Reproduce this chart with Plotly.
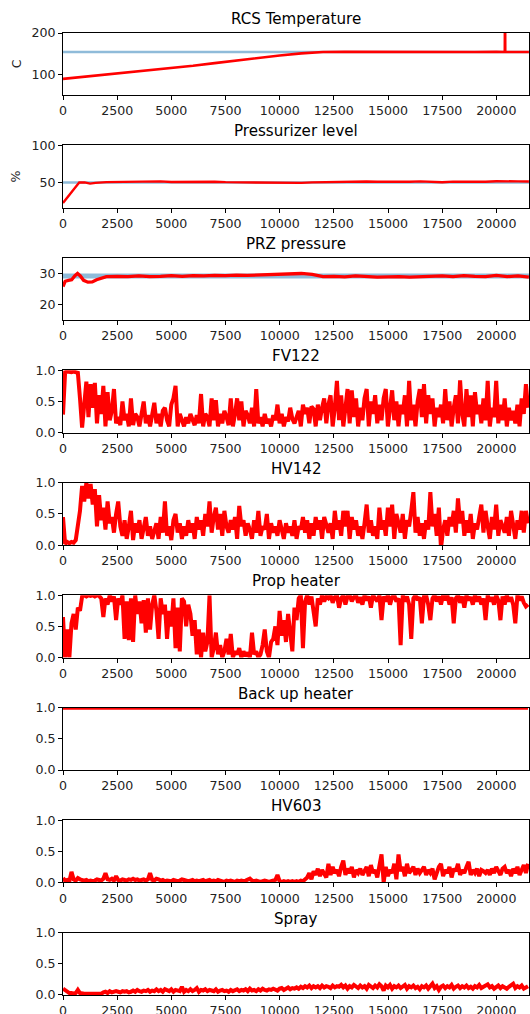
import plotly.graph_objects as go

# ---------------- data ----------------
titles = ["RCS Temperature", "Pressurizer level", "PRZ pressure", "FV122", "HV142",
          "Prop heater", "Back up heater", "HV603", "Spray"]
ylabels = ["C", "%", "", "", "", "", "", "", ""]

x_tickvals = [0, 2500, 5000, 7500, 10000, 12500, 15000, 17500, 20000]
x_ticktext = ["0", "2500", "5000", "7500", "10000", "12500", "15000", "17500", "20000"]
x_max = 21520

y_ranges = [[50, 200], [16, 100], [15, 35]] + [[0, 1]] * 6
y_tickvals = [[100, 200], [50, 100], [20, 30]] + [[0, 0.5, 1.0]] * 6
y_ticktext = [["100", "200"], ["50", "100"], ["20", "30"]] + [["0.0", "0.5", "1.0"]] * 6

# RCS temperature
temp_t = [0, 1000, 2000, 3000, 4000, 5000, 6000, 7000, 8000, 9000, 10000, 11000, 12000,
          13000, 14000, 15000, 16000, 17000, 18000, 19000, 20000,
          20390, 20400, 20410, 21000, 21500]
temp_v = [89.5, 94.5, 99.5, 104.5, 109.5, 114.5, 121, 127.5, 134, 140, 146, 151, 154.3,
          154.5, 154.2, 154.4, 154.3, 154.1, 154.4, 154.3, 154.5,
          154.2, 300, 154.4, 154.3, 154.4]
temp_sp_t = [0, 21520]
temp_sp_v = [154.4, 154.4]

# Pressurizer level
level_t = [0, 250, 500, 750, 1000, 1250, 1500, 2000, 2500, 3000, 3500, 4000, 4500, 5000,
           5500, 6000, 6500, 7000, 7500, 8000, 8500, 9000, 9500, 10000, 10500, 11000,
           11500, 12000, 12500, 13000, 13500, 14000, 14500, 15000, 15500, 16000, 16500,
           17000, 17500, 18000, 18500, 19000, 19500, 20000, 20500, 21000, 21500]
level_v = [22.5, 31, 41, 50, 50.2, 48.5, 49.5, 50.5, 50.8, 50.4, 51, 51.2, 51.6, 50.8,
           51, 51.2, 50.8, 51, 50.5, 50.3, 50, 50.5, 50.1, 49.8, 50, 49.5,
           50.2, 50.6, 51, 51.5, 51, 51.3, 51, 50.8, 51.3, 51, 51.6,
           51.2, 50.4, 51.2, 51, 51.6, 51, 51.8, 51.2, 51.5, 51.3]
level_sp_t = [0, 21520]
level_sp_v = [50, 50]

# PRZ pressure
press_t = [0, 100, 250, 400, 550, 670, 800, 950, 1150, 1350, 1550, 1800,
           2000, 2500, 3000, 3500, 4000, 4500, 5000, 5500, 6000, 6500, 7000, 7500,
           8000, 8500, 9000, 9500, 10000, 10500, 11000, 11500, 11800,
           12000, 12500, 13000, 13500, 14000, 14500, 15000, 15500, 16000, 16500,
           17000, 17500, 18000, 18500, 19000, 19500, 20000, 20500, 21000, 21500]
press_v = [25.8, 27.5, 27.8, 28.0, 29.3, 30.0, 29.2, 27.8, 27.2, 27.3, 28.0, 28.7,
           29.0, 29.1, 29.0, 29.2, 29.0, 29.1, 29.3, 29.1, 29.3, 29.2, 29.4, 29.3,
           29.5, 29.4, 29.5, 29.6, 29.7, 29.8, 30.0, 29.7, 29.2,
           29.0, 29.1, 28.9, 29.2, 29.0, 28.8, 28.9, 29.0, 28.8, 29.0,
           29.1, 29.2, 29.0, 29.3, 29.1, 29.0, 29.4, 29.0, 29.2, 28.8]
press_band_t = [0, 21520]
press_band_lo = [28.4, 28.4]
press_band_hi = [30.0, 30.0]

# valve / heater signals, one sample every 98 s
sample_dt = 98

fv122 = [
    0.29, 0.97, 0.98, 0.97, 0.97, 0.98, 0.97, 0.96, 0.55, 0.08,
    0.45, 0.82, 0.25, 0.78, 0.40, 0.80, 0.15, 0.60, 0.30, 0.75,
    0.10, 0.65, 0.20, 0.35, 0.70, 0.15, 0.25, 0.12, 0.50, 0.20,
    0.30, 0.10, 0.55, 0.12, 0.30, 0.25, 0.10, 0.30, 0.50, 0.15,
    0.28, 0.10, 0.30, 0.48, 0.15, 0.30, 0.10, 0.35, 0.40, 0.20,
    0.10, 0.45, 0.55, 0.75, 0.10, 0.30, 0.20, 0.10, 0.25, 0.15,
    0.30, 0.20, 0.12, 0.28, 0.15, 0.62, 0.10, 0.30, 0.25, 0.10,
    0.55, 0.20, 0.52, 0.10, 0.30, 0.15, 0.35, 0.25, 0.12, 0.55,
    0.10, 0.30, 0.55, 0.20, 0.50, 0.10, 0.35, 0.28, 0.15, 0.40,
    0.10, 0.70, 0.15, 0.25, 0.10, 0.30, 0.15, 0.22, 0.10, 0.28,
    0.20, 0.45, 0.15, 0.30, 0.10, 0.25, 0.18, 0.40, 0.22, 0.15,
    0.25, 0.35, 0.10, 0.45, 0.30, 0.40, 0.15, 0.42, 0.38, 0.10,
    0.45, 0.20, 0.40, 0.55, 0.15, 0.45, 0.60, 0.10, 0.40, 0.83,
    0.20, 0.60, 0.10, 0.45, 0.70, 0.15, 0.68, 0.25, 0.55, 0.10,
    0.40, 0.20, 0.55, 0.70, 0.10, 0.50, 0.30, 0.60, 0.15, 0.45,
    0.20, 0.55, 0.70, 0.10, 0.40, 0.68, 0.20, 0.50, 0.10, 0.45,
    0.30, 0.60, 0.10, 0.83, 0.20, 0.45, 0.10, 0.50, 0.70, 0.25,
    0.78, 0.15, 0.60, 0.30, 0.55, 0.10, 0.40, 0.25, 0.45, 0.15,
    0.70, 0.20, 0.50, 0.10, 0.40, 0.60, 0.15, 0.84, 0.30, 0.10,
    0.70, 0.25, 0.60, 0.10, 0.65, 0.30, 0.45, 0.15, 0.55, 0.20,
    0.83, 0.10, 0.40, 0.25, 0.83, 0.15, 0.45, 0.20, 0.55, 0.10,
    0.40, 0.20, 0.35, 0.15, 0.45, 0.10, 0.55, 0.30, 0.78, 0.40,
]

hv142 = [
    0.45, 0.02, 0.05, 0.03, 0.05, 0.04, 0.08, 0.30, 0.55, 0.95,
    0.70, 1.00, 0.75, 0.98, 0.65, 0.90, 0.30, 0.80, 0.40, 0.60,
    0.25, 0.70, 0.35, 0.45, 0.20, 0.50, 0.70, 0.30, 0.15, 0.40,
    0.10, 0.30, 0.55, 0.08, 0.35, 0.20, 0.40, 0.10, 0.30, 0.45,
    0.15, 0.30, 0.10, 0.25, 0.35, 0.10, 0.45, 0.20, 0.70, 0.15,
    0.30, 0.08, 0.40, 0.50, 0.20, 0.35, 0.10, 0.30, 0.15, 0.40,
    0.20, 0.35, 0.10, 0.45, 0.25, 0.40, 0.15, 0.50, 0.30, 0.70,
    0.20, 0.45, 0.60, 0.25, 0.50, 0.15, 0.55, 0.30, 0.20, 0.40,
    0.25, 0.45, 0.10, 0.63, 0.30, 0.40, 0.15, 0.35, 0.25, 0.10,
    0.40, 0.20, 0.55, 0.15, 0.30, 0.25, 0.50, 0.10, 0.35, 0.20,
    0.30, 0.15, 0.40, 0.25, 0.10, 0.35, 0.20, 0.30, 0.15, 0.40,
    0.10, 0.30, 0.25, 0.45, 0.20, 0.40, 0.10, 0.35, 0.15, 0.45,
    0.25, 0.40, 0.10, 0.45, 0.30, 0.20, 0.35, 0.10, 0.55, 0.25,
    0.40, 0.15, 0.55, 0.30, 0.55, 0.10, 0.45, 0.25, 0.40, 0.15,
    0.30, 0.10, 0.35, 0.65, 0.20, 0.40, 0.15, 0.30, 0.10, 0.60,
    0.25, 0.40, 0.15, 0.60, 0.30, 0.65, 0.10, 0.50, 0.35, 0.20,
    0.50, 0.10, 0.40, 0.30, 0.55, 0.85, 0.20, 0.45, 0.15, 0.35,
    0.10, 0.40, 0.25, 0.85, 0.30, 0.50, 0.15, 0.60, -0.05, 0.25,
    0.40, 0.15, 0.45, 0.30, 0.55, 0.20, 0.75, 0.35, 0.55, 0.15,
    0.40, 0.20, 0.50, 0.10, 0.35, 0.25, 0.45, 0.65, 0.20, 0.55,
    0.30, 0.10, 0.45, 0.25, 0.65, 0.15, 0.40, 0.30, 0.20, 0.45,
    0.15, 0.55, 0.30, 0.10, 0.40, 0.25, 0.55, 0.20, 0.55, 0.35,
]

prop_heater = [
    0.65, 0.00, 0.45, 0.00, 0.55, 0.70, 0.45, 0.80, 0.75, 0.98,
    1.00, 0.98, 1.00, 0.99, 1.00, 0.98, 1.00, 0.99, 0.95, 0.65,
    0.95, 0.85, 1.00, 0.90, 0.98, 0.60, 0.95, 0.85, 1.00, 0.30,
    0.90, 0.28, 0.95, 0.25, 1.00, 0.70, 0.90, 0.55, 0.92, 0.40,
    0.95, 0.45, 0.85, 1.00, 0.75, 0.30, 0.95, 0.70, 0.85, 0.30,
    0.75, 0.50, 0.95, 0.15, 0.80, 0.10, 0.95, 0.90, 0.50, 0.85,
    0.70, 0.35, 0.60, 0.05, 0.45, 0.00, 0.40, 0.10, 0.25, 1.00,
    0.00, 0.15, 0.40, 0.05, 0.20, 0.00, 0.10, 0.30, 0.05, 0.38,
    0.00, 0.10, 0.05, 0.15, 0.00, 0.10, 0.02, 0.08, 0.00, 0.40,
    0.05, 0.10, 0.00, 0.05, 0.20, 0.45, 0.10, 0.00, 0.25, 0.30,
    0.50, 0.20, 0.75, 0.35, 0.60, 0.25, 0.70, 0.40, 0.10, 0.80,
    0.60, 0.95, 1.00, 0.15, 0.90, 1.00, 0.85, 0.98, 0.70, 0.50,
    0.95, 0.85, 1.00, 0.90, 0.98, 0.95, 1.00, 0.88, 0.97, 1.00,
    0.80, 0.95, 1.00, 0.85, 0.98, 1.00, 0.90, 0.97, 1.00, 0.88,
    0.97, 0.85, 1.00, 0.92, 0.98, 0.80, 1.00, 0.95, 0.90, 1.00,
    0.60, 0.98, 0.90, 1.00, 0.85, 0.97, 1.00, 0.90, 0.95, 0.20,
    1.00, 0.90, 0.98, 0.85, 0.30, 0.95, 1.00, 0.92, 0.97, 0.55,
    0.98, 1.00, 0.85, 0.60, 0.95, 1.00, 0.90, 0.98, 0.85, 1.00,
    0.92, 1.00, 0.85, 0.97, 0.55, 0.95, 1.00, 0.88, 0.98, 0.80,
    1.00, 0.92, 0.97, 0.85, 1.00, 0.90, 0.98, 0.85, 0.95, 0.60,
    1.00, 0.90, 0.97, 0.85, 1.00, 0.92, 0.60, 0.98, 0.85, 1.00,
    0.90, 0.97, 0.85, 0.55, 1.00, 0.92, 0.98, 0.88, 0.82, 0.85,
]

backup_heater = [1.0] * 220

hv603 = [
    0.07, 0.03, 0.04, 0.02, 0.17, 0.05, 0.03, 0.07, 0.05, 0.04,
    0.03, 0.04, 0.02, 0.03, 0.02, 0.03, 0.05, 0.04, 0.03, 0.06,
    0.15, 0.05, 0.04, 0.06, 0.03, 0.10, 0.04, 0.03, 0.05, 0.04,
    0.03, 0.05, 0.04, 0.06, 0.04, 0.05, 0.03, 0.04, 0.05, 0.03,
    0.05, 0.15, 0.04, 0.03, 0.06, 0.05, 0.03, 0.04, 0.02, 0.03,
    0.03, 0.02, 0.04, 0.03, 0.02, 0.03, 0.05, 0.04, 0.03, 0.02,
    0.03, 0.04, 0.02, 0.03, 0.02, 0.03, 0.04, 0.02, 0.03, 0.04,
    0.02, 0.03, 0.02, 0.04, 0.03, 0.02, 0.01, 0.03, 0.02, 0.03,
    0.02, 0.01, 0.03, 0.02, 0.03, 0.02, 0.03, 0.05, 0.06, 0.03,
    0.02, 0.03, 0.02, 0.01, 0.02, 0.03, 0.02, 0.01, 0.02, 0.03,
    0.04, 0.12, 0.02, 0.01, 0.02, 0.01, 0.02, 0.01, 0.02, 0.01,
    0.02, 0.01, 0.03, 0.02, 0.05, 0.08, 0.15, 0.05, 0.18, 0.12,
    0.22, 0.10, 0.20, 0.15, 0.08, 0.30, 0.12, 0.25, 0.15, 0.20,
    0.10, 0.25, 0.35, 0.12, 0.22, 0.15, 0.25, 0.08, 0.20, 0.15,
    0.22, 0.12, 0.18, 0.25, 0.10, 0.28, 0.15, 0.20, 0.08, 0.30,
    0.45, 0.00, 0.25, 0.10, 0.20, 0.15, 0.30, 0.05, 0.45, 0.18,
    0.25, 0.10, 0.30, 0.15, 0.20, 0.25, 0.12, 0.22, 0.15, 0.20,
    0.25, 0.12, 0.20, 0.15, 0.22, 0.05, 0.18, 0.25, 0.30, 0.10,
    0.20, 0.15, 0.25, 0.08, 0.22, 0.18, 0.30, 0.12, 0.20, 0.15,
    0.25, 0.33, 0.12, 0.20, 0.15, 0.22, 0.10, 0.20, 0.18, 0.15,
    0.20, 0.12, 0.22, 0.15, 0.25, 0.18, 0.12, 0.22, 0.25, 0.15,
    0.20, 0.10, 0.22, 0.15, 0.25, 0.12, 0.20, 0.28, 0.15, 0.30,
]

spray = [
    0.10, 0.07, 0.05, 0.03, 0.03, 0.02, 0.03, 0.08, 0.03, 0.02,
    0.02, 0.02, 0.02, 0.02, 0.02, 0.02, 0.02, 0.02, 0.02, 0.04,
    0.05, 0.03, 0.06, 0.04, 0.05, 0.06, 0.05, 0.04, 0.06, 0.05,
    0.06, 0.04, 0.05, 0.07, 0.05, 0.08, 0.06, 0.05, 0.07, 0.06,
    0.08, 0.05, 0.07, 0.06, 0.09, 0.06, 0.08, 0.05, 0.09, 0.07,
    0.06, 0.09, 0.05, 0.08, 0.07, 0.06, 0.13, 0.05, 0.08, 0.06,
    0.09, 0.06, 0.08, 0.11, 0.05, 0.08, 0.07, 0.09, 0.06, 0.08,
    0.07, 0.06, 0.09, 0.05, 0.07, 0.08, 0.06, 0.07, 0.05, 0.08,
    0.06, 0.07, 0.09, 0.06, 0.08, 0.07, 0.09, 0.06, 0.10, 0.07,
    0.08, 0.06, 0.09, 0.07, 0.10, 0.08, 0.07, 0.09, 0.08, 0.10,
    0.09, 0.07, 0.10, 0.11, 0.08, 0.10, 0.12, 0.09, 0.11, 0.10,
    0.12, 0.10, 0.13, 0.11, 0.14, 0.12, 0.15, 0.11, 0.14, 0.12,
    0.14, 0.11, 0.15, 0.12, 0.14, 0.13, 0.11, 0.15, 0.12, 0.14,
    0.13, 0.16, 0.12, 0.15, 0.10, 0.14, 0.12, 0.16, 0.13, 0.11,
    0.15, 0.12, 0.14, 0.10, 0.16, 0.13, 0.11, 0.15, 0.12, 0.17,
    0.14, 0.07, 0.15, 0.12, 0.16, 0.10, 0.14, 0.12, 0.15, 0.11,
    0.13, 0.16, 0.10, 0.14, 0.12, 0.15, 0.11, 0.13, 0.09, 0.14,
    0.12, 0.15, 0.10, 0.13, 0.18, 0.11, 0.14, 0.08, 0.13, 0.15,
    0.11, 0.14, 0.12, 0.16, 0.10, 0.13, 0.15, 0.11, 0.14, 0.12,
    0.15, 0.11, 0.13, 0.10, 0.14, 0.12, 0.16, 0.11, 0.13, 0.15,
    0.17, 0.12, 0.14, 0.10, 0.13, 0.15, 0.11, 0.14, 0.12, 0.10,
    0.13, 0.15, 0.18, 0.11, 0.14, 0.12, 0.15, 0.10, 0.13, 0.14,
]

sample_t = [i * sample_dt for i in range(len(fv122))]

# ---------------- layout / style ----------------
W, H = 530, 1014
X0, X1 = 63, 529.3
TOP0, PITCH, PH = 33.0, 112.45, 62.3
FONT = "DejaVu Sans"
TICK_FS = 12.6
TITLE_FS = 15.1
RED = "#ff0000"
BLUE_LINE = "rgba(31,119,180,0.5)"
BLUE_FILL = "rgba(31,119,180,0.5)"

fig = go.Figure()


def ax_names(i):
    s = "" if i == 0 else str(i + 1)
    return "x" + s, "y" + s, "xaxis" + s, "yaxis" + s


# panel 1: temperature
xa, ya, _, _ = ax_names(0)
fig.add_trace(go.Scatter(x=temp_sp_t, y=temp_sp_v, mode="lines",
                         line=dict(color=BLUE_LINE, width=2.4), xaxis=xa, yaxis=ya))
fig.add_trace(go.Scatter(x=temp_t, y=temp_v, mode="lines",
                         line=dict(color=RED, width=2.6), xaxis=xa, yaxis=ya))

# panel 2: level
xa, ya, _, _ = ax_names(1)
fig.add_trace(go.Scatter(x=level_sp_t, y=level_sp_v, mode="lines",
                         line=dict(color=BLUE_LINE, width=2.6), xaxis=xa, yaxis=ya))
fig.add_trace(go.Scatter(x=level_t, y=level_v, mode="lines",
                         line=dict(color=RED, width=2.4), xaxis=xa, yaxis=ya))

# panel 3: pressure
xa, ya, _, _ = ax_names(2)
fig.add_trace(go.Scatter(x=press_band_t, y=press_band_lo, mode="lines",
                         line=dict(width=0, color=BLUE_FILL), xaxis=xa, yaxis=ya))
fig.add_trace(go.Scatter(x=press_band_t, y=press_band_hi, mode="lines", fill="tonexty",
                         fillcolor=BLUE_FILL, line=dict(width=0, color=BLUE_FILL),
                         xaxis=xa, yaxis=ya))
fig.add_trace(go.Scatter(x=press_t, y=press_v, mode="lines",
                         line=dict(color=RED, width=3.3), xaxis=xa, yaxis=ya))

# panels 4-9: signals
for k, series in enumerate([fv122, hv142, prop_heater, backup_heater, hv603, spray]):
    xa, ya, _, _ = ax_names(k + 3)
    fig.add_trace(go.Scatter(x=sample_t, y=series, mode="lines",
                             line=dict(color=RED, width=4), xaxis=xa, yaxis=ya))

annotations = []
layout = {}
for i in range(9):
    xa, ya, xk, yk = ax_names(i)
    top = TOP0 + PITCH * i
    bot = top + PH
    common = dict(showline=True, mirror=True, linecolor="#000000", linewidth=1,
                  ticks="outside", ticklen=4, tickwidth=1, tickcolor="#000000",
                  showgrid=False, zeroline=False, automargin=False,
                  tickfont=dict(family=FONT, size=TICK_FS, color="#222222"))
    layout[xk] = dict(domain=[X0 / W, X1 / W], range=[0, x_max], anchor=ya,
                      tickvals=x_tickvals, ticktext=x_ticktext, **common)
    layout[yk] = dict(domain=[1 - bot / H, 1 - top / H], range=y_ranges[i], anchor=xa,
                      tickvals=y_tickvals[i], ticktext=y_ticktext[i], **common)
    annotations.append(dict(text=titles[i], x=(X0 + X1) / 2 / W, y=1 - (top - 14) / H,
                            xref="paper", yref="paper", xanchor="center", yanchor="middle",
                            showarrow=False,
                            font=dict(family=FONT, size=TITLE_FS, color="#000000")))
    if ylabels[i]:
        annotations.append(dict(text=ylabels[i], x=16 / W, y=1 - (top + PH / 2) / H,
                                xref="paper", yref="paper", xanchor="center",
                                yanchor="middle", showarrow=False, textangle=-90,
                                font=dict(family=FONT, size=TICK_FS, color="#222222")))

fig.update_layout(template="none", width=W, height=H, margin=dict(l=0, r=0, t=0, b=0, pad=0),
                  paper_bgcolor="white", plot_bgcolor="white", showlegend=False,
                  hovermode=False, annotations=annotations, **layout)

fig.write_html("out.html",
               config={"displayModeBar": False, "staticPlot": True},
               post_script="document.body.style.margin='0px';"
                           "document.body.style.overflow='hidden';")
